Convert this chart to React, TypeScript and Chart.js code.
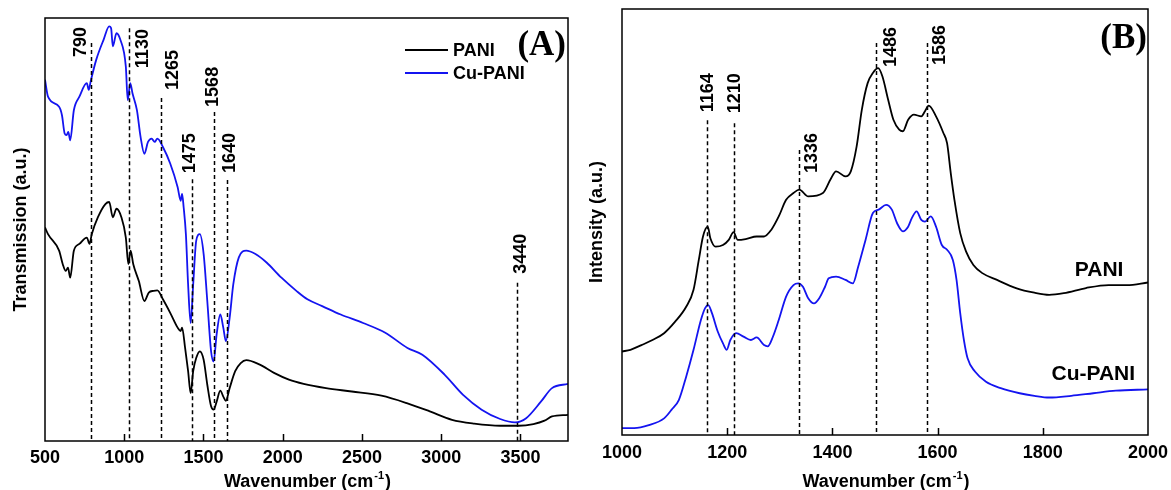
import React, { useEffect, useRef } from 'react';
import { Chart, registerables } from 'chart.js';

Chart.register(...registerables);

const SANS = "'Liberation Sans', Arial, sans-serif";
const SERIF = "'Liberation Serif', 'Times New Roman', serif";
const BLUE = '#1414f0';

// ---------- Panel A : FTIR ----------
const ftirPaniX = [
  500, 519, 589, 612, 631, 645, 659, 682, 717, 764,
  781, 795, 834, 881, 905, 928, 951, 982, 1010, 1026,
  1040, 1057, 1092, 1127, 1155, 1185, 1209, 1244, 1290, 1337,
  1356, 1365, 1384, 1403, 1419, 1435, 1454, 1477, 1501, 1524,
  1548, 1564, 1583, 1606, 1625, 1641, 1665, 1700, 1735, 1770,
  1852, 1945, 2039, 2132, 2273, 2436, 2623, 2787, 2928, 3068,
  3208, 3372, 3489, 3582, 3652, 3699, 3800,
];
const ftirPaniY = [
  50.5, 48.9, 45.0, 41.8, 40.2, 41.0, 38.6, 45.0, 46.6, 48.1,
  46.6, 48.9, 52.9, 56.0, 56.5, 52.9, 54.9, 52.9, 48.1, 41.8,
  45.0, 41.8, 37.8, 33.1, 35.1, 35.5, 35.6, 33.5, 30.3, 26.8,
  26.0, 26.8, 22.0, 16.5, 11.3, 16.5, 19.6, 21.2, 19.2, 13.3,
  8.2, 7.4, 9.3, 11.9, 10.5, 9.5, 12.5, 16.5, 18.4, 19.1,
  18.1, 16.1, 14.5, 13.5, 12.5, 11.7, 10.7, 8.9, 7.0, 5.0,
  4.1, 3.6, 3.6, 4.0, 4.8, 5.8, 6.2,
];
const ftirCuX = [
  500, 519, 589, 607, 624, 636, 647, 659, 682, 717,
  764, 776, 788, 823, 870, 905, 917, 928, 951, 975,
  1010, 1022, 1038, 1052, 1080, 1103, 1127, 1150, 1173, 1192,
  1209, 1244, 1290, 1337, 1356, 1365, 1375, 1389, 1403, 1419,
  1435, 1454, 1477, 1501, 1524, 1548, 1564, 1583, 1606, 1625,
  1641, 1665, 1688, 1723, 1770, 1828, 1898, 1992, 2086, 2156,
  2249, 2366, 2507, 2647, 2787, 2881, 3021, 3138, 3255, 3372,
  3465, 3536, 3629, 3699, 3800,
];
const ftirCuY = [
  85.4, 81.4, 79.0, 77.0, 72.7, 72.3, 73.1, 71.1, 78.2, 81.4,
  84.6, 83.0, 85.0, 90.1, 94.9, 98.0, 97.6, 93.3, 96.4, 94.9,
  88.5, 80.6, 84.6, 82.2, 78.2, 71.9, 67.9, 70.7, 71.5, 70.7,
  71.5, 69.5, 65.6, 60.0, 56.8, 58.4, 55.2, 48.9, 37.0, 27.9,
  37.0, 47.3, 48.9, 44.2, 33.1, 21.2, 18.8, 25.2, 29.9, 26.8,
  23.6, 29.1, 37.0, 43.4, 45.0, 44.2, 42.2, 38.6, 35.5, 33.5,
  31.9, 29.9, 27.9, 25.6, 22.0, 20.4, 15.7, 10.9, 7.4, 5.2,
  4.4, 5.4, 9.3, 12.5, 13.5,
];
const ftirTicks = [500, 1000, 1500, 2000, 2500, 3000, 3500];
const ftirMarkX = [791, 1032, 1232, 1427, 1564, 1651, 3480];
const ftirMarkTop = [94.1, 97.6, 81.1, 61.9, 77.8, 61.7, 37.4];
const ftirMarkLabels = ['790', '1130', '1265', '1475', '1568', '1640', '3440'];

// ---------- Panel B : Raman ----------
const ramanPaniX = [
  1000, 1016, 1037, 1058, 1080, 1101, 1122, 1136, 1146, 1154,
  1163, 1168, 1178, 1192, 1203, 1212, 1220, 1235, 1256, 1270,
  1284, 1298, 1312, 1326, 1337, 1354, 1382, 1396, 1407, 1425,
  1435, 1446, 1456, 1467, 1477, 1487, 1495, 1506, 1516, 1527,
  1534, 1544, 1555, 1569, 1576, 1583, 1597, 1611, 1618, 1625,
  1632, 1643, 1654, 1668, 1685, 1713, 1749, 1784, 1812, 1840,
  1882, 1925, 1960, 2000,
];
const ramanPaniY = [
  19.6, 20.0, 21.1, 22.3, 23.9, 26.6, 30.1, 34.1, 41.1, 46.6,
  48.9, 46.2, 44.2, 44.6, 45.8, 47.6, 45.8, 46.0, 46.6, 46.6,
  48.2, 51.3, 55.2, 56.8, 57.6, 56.0, 56.8, 59.9, 61.9, 60.7,
  61.9, 67.7, 76.4, 82.6, 85.0, 86.1, 84.2, 78.7, 74.0, 71.7,
  71.3, 74.0, 75.2, 74.8, 76.0, 77.3, 74.8, 70.9, 68.5, 61.5,
  55.2, 47.4, 43.1, 39.9, 38.0, 36.4, 34.5, 33.4, 32.9, 33.3,
  34.5, 35.2, 35.2, 35.8,
];
const ramanCuX = [
  1000, 1023, 1051, 1080, 1094, 1108, 1122, 1136, 1150, 1158,
  1164, 1171, 1182, 1192, 1199, 1206, 1217, 1231, 1245, 1256,
  1270, 1277, 1287, 1298, 1312, 1326, 1335, 1344, 1354, 1365,
  1375, 1386, 1393, 1407, 1425, 1439, 1449, 1463, 1477, 1488,
  1502, 1513, 1523, 1534, 1544, 1551, 1560, 1569, 1576, 1587,
  1597, 1608, 1618, 1629, 1636, 1643, 1650, 1657, 1671, 1692,
  1720, 1756, 1784, 1812, 1854, 1896, 1939, 2000,
];
const ramanCuY = [
  1.6, 1.6, 2.3, 3.9, 5.9, 8.2, 13.7, 20.0, 27.0, 29.8,
  30.5, 28.6, 24.3, 21.5, 20.0, 22.3, 23.9, 23.1, 22.3, 22.9,
  21.1, 20.8, 23.1, 27.0, 32.5, 35.2, 35.6, 34.8, 32.1, 30.9,
  32.1, 34.8, 36.8, 37.2, 36.4, 35.6, 39.5, 45.8, 52.1, 52.9,
  54.0, 52.9, 49.7, 47.8, 48.9, 50.9, 52.5, 50.5, 50.1, 51.3,
  48.9, 44.6, 43.5, 41.1, 36.4, 28.6, 22.3, 18.0, 14.9, 12.5,
  11.0, 9.8, 9.2, 8.8, 9.2, 9.8, 10.4, 10.7,
];
const ramanTicks = [1000, 1200, 1400, 1600, 1800, 2000];
const ramanMarkX = [1162, 1212, 1336, 1483, 1580];
const ramanMarkTop = [73.9, 73.2, 66.9, 92.0, 92.0];
const ramanMarkLabels = ['1164', '1210', '1336', '1486', '1586'];
const ramanSeriesNames = ['PANI', 'Cu-PANI'];
const ramanNameX = [1907, 1896];
const ramanNameY = [38.7, 14.3];

// label placement (px offsets: dx from line, db from line top to label start)
const ftirMarkPlace = [
  { dx: -10, db: 14 }, { dx: 14, db: 40 }, { dx: 12, db: -8 }, { dx: -2, db: -6 },
  { dx: -1, db: -5 }, { dx: 3, db: -7 }, { dx: 4, db: -9 },
];
const ramanMarkPlace = [
  { dx: 1, db: -8 }, { dx: 2, db: -10 }, { dx: 13, db: 23 }, { dx: 15, db: 24 }, { dx: 13, db: 22 },
];

const pts = (xs: number[], ys: number[]) => xs.map((x, i) => ({ x, y: ys[i] }));

const decorPlugin = {
  id: 'decor',
  afterDraw(chart: any, _args: any, o: any) {
    const { ctx, chartArea: ca, scales } = chart;
    const xs = scales.x;
    const ys = scales.y;
    ctx.save();
    // dashed marker lines
    ctx.strokeStyle = '#000';
    ctx.lineWidth = 1.5;
    ctx.setLineDash([4, 3]);
    o.markX.forEach((w: number, i: number) => {
      const px = Math.round(xs.getPixelForValue(w)) + 0.5;
      const top = ys.getPixelForValue(o.markTop[i]);
      ctx.beginPath();
      ctx.moveTo(px, top);
      ctx.lineTo(px, ca.bottom);
      ctx.stroke();
    });
    ctx.setLineDash([]);
    // marker labels
    ctx.fillStyle = '#000';
    ctx.font = `bold ${o.markFont}px ${SANS}`;
    ctx.textAlign = 'left';
    ctx.textBaseline = 'middle';
    o.markX.forEach((w: number, i: number) => {
      const pl = o.markPlace[i];
      const px = xs.getPixelForValue(w) + pl.dx;
      const py = ys.getPixelForValue(o.markTop[i]) + pl.db;
      ctx.save();
      ctx.translate(px, py);
      ctx.rotate(-Math.PI / 2);
      ctx.fillText(o.markLabels[i], 0, 0);
      ctx.restore();
    });
    // frame
    ctx.lineWidth = 1.5;
    ctx.strokeRect(ca.left, ca.top, ca.width, ca.height);
    // inward ticks
    ctx.beginPath();
    xs.ticks.forEach((t: any) => {
      if (t.value > xs.min && t.value < xs.max) {
        const px = Math.round(xs.getPixelForValue(t.value)) + 0.5;
        ctx.moveTo(px, ca.bottom);
        ctx.lineTo(px, ca.bottom - 7);
      }
    });
    ctx.stroke();
    // x title with superscript
    const main = 'Wavenumber (cm';
    const sup = '-1';
    const close = ')';
    ctx.textBaseline = 'alphabetic';
    ctx.textAlign = 'left';
    ctx.font = `bold ${o.titleFont}px ${SANS}`;
    const w1 = ctx.measureText(main).width;
    const w3 = ctx.measureText(close).width;
    ctx.font = `bold ${Math.round(o.titleFont * 0.62)}px ${SANS}`;
    const w2 = ctx.measureText(sup).width;
    const x0 = (ca.left + ca.right) / 2 - (w1 + w2 + w3) / 2;
    const base = o.titleBase;
    ctx.font = `bold ${o.titleFont}px ${SANS}`;
    ctx.fillText(main, x0, base);
    ctx.font = `bold ${Math.round(o.titleFont * 0.62)}px ${SANS}`;
    ctx.fillText(sup, x0 + w1 + 1, base - 8);
    ctx.font = `bold ${o.titleFont}px ${SANS}`;
    ctx.fillText(close, x0 + w1 + w2 + 2, base);
    // legend
    if (o.legend) {
      o.legend.forEach((it: any) => {
        ctx.strokeStyle = it.color;
        ctx.lineWidth = 1.8;
        ctx.beginPath();
        ctx.moveTo(it.x1, it.y);
        ctx.lineTo(it.x2, it.y);
        ctx.stroke();
        ctx.fillStyle = '#000';
        ctx.font = `bold 18px ${SANS}`;
        ctx.textAlign = 'left';
        ctx.textBaseline = 'middle';
        ctx.fillText(it.text, it.x2 + 5, it.y + 1);
      });
    }
    // series names placed at data positions
    if (o.names) {
      ctx.fillStyle = '#000';
      ctx.font = `bold 21px ${SANS}`;
      ctx.textAlign = 'center';
      ctx.textBaseline = 'middle';
      o.names.text.forEach((t: string, i: number) => {
        ctx.fillText(t, xs.getPixelForValue(o.names.x[i]), ys.getPixelForValue(o.names.y[i]));
      });
    }
    // panel letter
    ctx.fillStyle = '#000';
    ctx.font = `bold 35px ${SERIF}`;
    ctx.textAlign = 'right';
    ctx.textBaseline = 'middle';
    ctx.fillText(o.panel.text, o.panel.x, o.panel.y);
    ctx.restore();
  },
};

function makeConfig(p: any) {
  return {
    type: 'line',
    data: {
      datasets: p.series.map((s: any) => ({
        data: s.data,
        borderColor: s.color,
        borderWidth: 1.8,
        pointRadius: 0,
        cubicInterpolationMode: 'monotone',
        fill: false,
      })),
    },
    plugins: [decorPlugin],
    options: {
      responsive: false,
      animation: false,
      devicePixelRatio: 1,
      layout: { padding: p.padding },
      plugins: {
        legend: { display: false },
        tooltip: { enabled: false },
        decor: p.decor,
      },
      scales: {
        x: {
          type: 'linear',
          min: p.xmin,
          max: p.xmax,
          grid: { display: false },
          border: { display: false },
          ticks: {
            color: '#000',
            font: { family: SANS, size: 18, weight: 'bold' },
            padding: p.tickPad,
            maxRotation: 0,
            callback: (v: any) => String(v),
          },
          afterBuildTicks: (scale: any) => {
            scale.ticks = p.ticks.map((v: number) => ({ value: v }));
          },
          afterFit: (scale: any) => {
            scale.height = p.xHeight;
          },
        },
        y: {
          min: 0,
          max: 100,
          grid: { display: false },
          border: { display: false },
          ticks: { display: false },
          title: {
            display: true,
            text: p.yTitle,
            color: '#000',
            font: { family: SANS, size: 18, weight: 'bold' },
            padding: { top: p.yTitlePad, bottom: 0 },
          },
          afterFit: (scale: any) => {
            scale.width = p.yWidth;
          },
        },
      },
    },
  };
}

function Panel({ width, left, cfg }: { width: number; left: number; cfg: any }) {
  const ref = useRef<HTMLCanvasElement | null>(null);
  useEffect(() => {
    if (!ref.current) return;
    const chart = new Chart(ref.current, cfg);
    return () => chart.destroy();
  }, []);
  return (
    <canvas
      ref={ref}
      width={width}
      height={490}
      style={{ position: 'absolute', left, top: 0, width, height: 490 }}
    />
  );
}

const cfgA = makeConfig({
  series: [
    { data: pts(ftirPaniX, ftirPaniY), color: '#000000' },
    { data: pts(ftirCuX, ftirCuY), color: BLUE },
  ],
  padding: { top: 18, right: 17, left: 0, bottom: 0 },
  xmin: 500,
  xmax: 3800,
  ticks: ftirTicks,
  tickPad: -2,
  xHeight: 49,
  yWidth: 45,
  yTitle: 'Transmission (a.u.)',
  yTitlePad: 10,
  decor: {
    markX: ftirMarkX,
    markTop: ftirMarkTop,
    markLabels: ftirMarkLabels,
    markPlace: ftirMarkPlace,
    markFont: 18,
    titleFont: 18,
    titleBase: 487,
    legend: [
      { text: 'PANI', color: '#000000', x1: 405, x2: 448, y: 50 },
      { text: 'Cu-PANI', color: BLUE, x1: 405, x2: 448, y: 73 },
    ],
    panel: { text: '(A)', x: 566, y: 46 },
  },
});

const cfgB = makeConfig({
  series: [
    { data: pts(ramanPaniX, ramanPaniY), color: '#000000' },
    { data: pts(ramanCuX, ramanCuY), color: BLUE },
  ],
  padding: { top: 9, right: 23, left: 0, bottom: 0 },
  xmin: 1000,
  xmax: 2000,
  ticks: ramanTicks,
  tickPad: -1,
  xHeight: 55,
  yWidth: 37,
  yTitle: 'Intensity (a.u.)',
  yTitlePad: 1,
  decor: {
    markX: ramanMarkX,
    markTop: ramanMarkTop,
    markLabels: ramanMarkLabels,
    markPlace: ramanMarkPlace,
    markFont: 18,
    titleFont: 18,
    titleBase: 487,
    names: { text: ramanSeriesNames, x: ramanNameX, y: ramanNameY },
    panel: { text: '(B)', x: 562, y: 39 },
  },
});

export default function App() {
  return (
    <div
      style={{
        position: 'fixed',
        left: 0,
        top: 0,
        width: 1171,
        height: 490,
        background: '#fff',
        overflow: 'hidden',
      }}
    >
      <Panel width={585} left={0} cfg={cfgA} />
      <Panel width={586} left={585} cfg={cfgB} />
    </div>
  );
}
